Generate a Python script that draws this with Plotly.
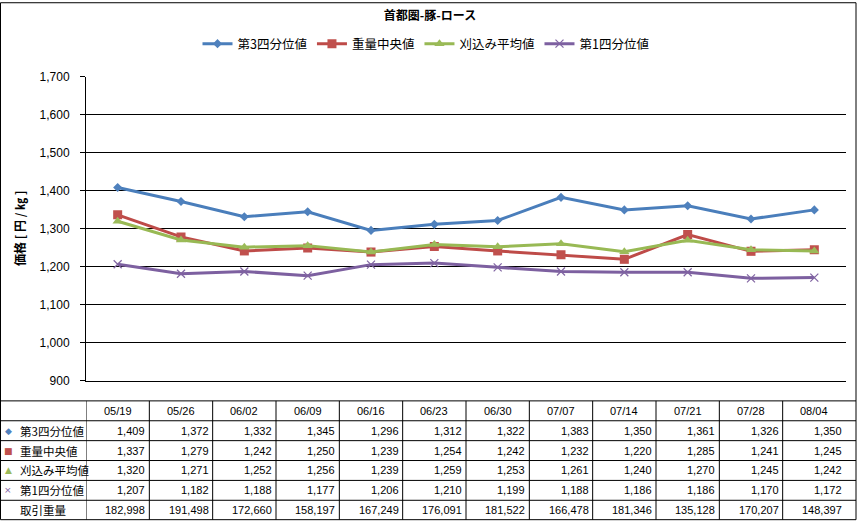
import plotly.graph_objects as go

# ---------------- data ----------------
categories = ["05/19", "05/26", "06/02", "06/09", "06/16", "06/23",
              "06/30", "07/07", "07/14", "07/21", "07/28", "08/04"]
q3_values = [1409, 1372, 1332, 1345, 1296, 1312, 1322, 1383, 1350, 1361, 1326, 1350]
median_values = [1337, 1279, 1242, 1250, 1239, 1254, 1242, 1232, 1220, 1285, 1241, 1245]
trimmed_values = [1320, 1271, 1252, 1256, 1239, 1259, 1253, 1261, 1240, 1270, 1245, 1242]
q1_values = [1207, 1182, 1188, 1177, 1206, 1210, 1199, 1188, 1186, 1186, 1170, 1172]
volume_values = [182998, 191498, 172660, 158197, 167249, 176091,
                 181522, 166478, 181346, 135128, 170207, 148397]

series_names = ["第3四分位値", "重量中央値", "刈込み平均値", "第1四分位値"]
volume_label = "取引重量"
chart_title = "首都圏-豚-ロース"
y_title = "価格 [ 円 / ㎏ ]"
y_tick_values = [900, 1000, 1100, 1200, 1300, 1400, 1500, 1600, 1700]

# ---------------- styles ----------------
line_colors = ["#4A7EBB", "#BE4B48", "#98B954", "#7D60A0"]
marker_colors = ["#4F81BD", "#C0504D", "#9BBB59", "#8064A2"]
marker_symbols = ["diamond", "square", "triangle-up", "x-thin"]
marker_sizes = [7, 9, 9, 8]
table_glyphs = ["◆", "■", "▲", "×"]

CJK = "Noto Sans CJK JP"
NUM = "Liberation Sans"

W, H = 857, 521
L, R, T, B = 86, 11, 75, 140
PW, PH = W - L - R, H - T - B


def px_x(p):
    return (p - L) / PW


def px_y(p):
    return (H - B - p) / PH


series_values = [q3_values, median_values, trimmed_values, q1_values]

fig = go.Figure()
for name, vals, lc, mc, sym, ms in zip(series_names, series_values, line_colors,
                                       marker_colors, marker_symbols, marker_sizes):
    marker = dict(symbol=sym, size=ms, color=mc)
    if sym == "x-thin":
        marker["line"] = dict(color=mc, width=1.2)
    fig.add_trace(go.Scatter(
        x=categories, y=vals, name=name, mode="lines+markers",
        line=dict(color=lc, width=3), marker=marker,
    ))

shapes = []
annotations = []

# outer frame
shapes.append(dict(type="rect", xref="paper", yref="paper",
                   x0=px_x(0.5), x1=px_x(856), y0=px_y(0.5), y1=px_y(520.5),
                   line=dict(color="black", width=1), fillcolor="rgba(0,0,0,0)",
                   layer="above"))

# table geometry
row_top = 401
row_h = 20
n_rows = 6
for k in range(n_rows):
    yy = px_y(row_top + k * row_h)
    shapes.append(dict(type="line", xref="paper", yref="paper",
                       x0=px_x(0.5), x1=px_x(856), y0=yy, y1=yy,
                       line=dict(color="black", width=1)))
for i in range(len(categories)):
    shapes.append(dict(type="line", xref="x", yref="paper",
                       x0=i - 0.5, x1=i - 0.5,
                       y0=px_y(row_top), y1=px_y(520.5),
                       line=dict(color="black", width=1)))

# header row
for c in categories:
    annotations.append(dict(x=c, xref="x", y=px_y(row_top + row_h / 2), yref="paper",
                            text=c, showarrow=False, xanchor="center", yanchor="middle",
                            font=dict(family=NUM, size=11, color="black")))

# data rows
row_values = series_values + [volume_values]
row_labels = series_names + [volume_label]
for r, (lab, vals) in enumerate(zip(row_labels, row_values)):
    yc = px_y(row_top + row_h * (r + 1) + row_h / 2)
    if r < len(table_glyphs):
        annotations.append(dict(x=px_x(8), xref="paper", y=yc, yref="paper",
                                text=table_glyphs[r], showarrow=False,
                                xanchor="center", yanchor="middle",
                                font=dict(family="DejaVu Sans", size=9, color=marker_colors[r])))
    annotations.append(dict(x=px_x(18), xref="paper", y=yc, yref="paper",
                            text=lab, showarrow=False, xanchor="left", yanchor="middle",
                            font=dict(family=CJK, size=11.5, color="black")))
    for c, v in zip(categories, vals):
        annotations.append(dict(x=c, xref="x", y=yc, yref="paper",
                                text=f"{v:,}", showarrow=False,
                                xanchor="right", yanchor="middle", xshift=PW / 24 - 2,
                                font=dict(family=NUM, size=11, color="black")))

# y axis title
annotations.append(dict(x=px_x(20), xref="paper", y=0.5, yref="paper",
                        text="<b>" + y_title + "</b>", textangle=-90, showarrow=False,
                        xanchor="center", yanchor="middle",
                        font=dict(family=CJK, size=12, color="black")))

fig.update_layout(
    width=W, height=H, autosize=False,
    margin=dict(l=L, r=R, t=T, b=B, pad=0),
    paper_bgcolor="white", plot_bgcolor="white",
    title=dict(text="<b>" + chart_title + "</b>", xref="container", yref="container",
               x=430 / W, y=1 - 16 / H, xanchor="center", yanchor="middle",
               font=dict(family=CJK, size=12, color="black")),
    legend=dict(orientation="h", xref="container", yref="container",
                x=426 / W, y=1 - 44 / H, xanchor="center", yanchor="middle",
                font=dict(family=CJK, size=12.5, color="black"),
                itemwidth=30, bgcolor="rgba(0,0,0,0)"),
    xaxis=dict(type="category", range=[-0.5, len(categories) - 0.5],
               showticklabels=False, ticks="", showgrid=False,
               showline=True, linecolor="black", linewidth=1, zeroline=False, fixedrange=True),
    yaxis=dict(range=[y_tick_values[0], y_tick_values[-1]], tickvals=y_tick_values,
               tickformat=",d", ticks="outside", ticklen=5, tickcolor="black",
               ticklabelstandoff=8,
               showgrid=True, gridcolor="black", gridwidth=1,
               showline=True, linecolor="black", linewidth=1, zeroline=False,
               tickfont=dict(family=NUM, size=12, color="black"), fixedrange=True),
    shapes=shapes, annotations=annotations,
    showlegend=True,
)

fig.write_html("out.html", config={"displayModeBar": False},
               post_script="document.body.style.margin='0';document.body.style.overflow='hidden';")
